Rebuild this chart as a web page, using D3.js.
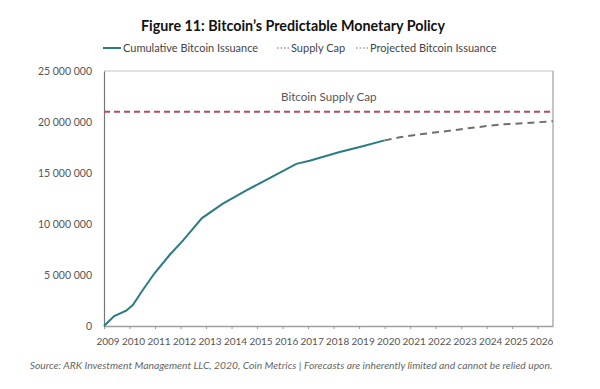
<!DOCTYPE html>
<html>
<head>
<meta charset="utf-8">
<script src="https://cdn.jsdelivr.net/npm/d3@7"></script>
<style>
  body { margin: 0; background: #fff; }
  svg { display: block; font-family: Lato, "Open Sans", sans-serif; }
</style>
</head>
<body>
<div id="svgContainer"></div>
<script>
// data (years as decimal years, values in BTC)
var issuanceYears  = [2009.0, 2009.4, 2009.87, 2010.13, 2010.52, 2010.98, 2011.57, 2012.1, 2012.84, 2013.66, 2014.58, 2015.49, 2016.54, 2017.06, 2018.24, 2019.1, 2020.0];
var issuanceValues = [0, 980000, 1500000, 2060000, 3530000, 5170000, 6960000, 8400000, 10580000, 12000000, 13300000, 14500000, 15900000, 16200000, 17050000, 17600000, 18200000];

var projectedYears  = [2020.0, 2020.59, 2021.37, 2022.27, 2023.1, 2023.99, 2024.6, 2025.56, 2026.6];
var projectedValues = [18200000, 18500000, 18800000, 19050000, 19330000, 19600000, 19760000, 19900000, 20080000];

var supplyCap = 21000000;
var capYears = [2009, 2026.6];

var yearTicks = d3.range(2009, 2027);
var valueTicks = [0, 5000000, 10000000, 15000000, 20000000, 25000000];

var legendNames = ["Cumulative Bitcoin Issuance", "Supply Cap", "Projected Bitcoin Issuance"];

var title = "Figure 11: Bitcoin\u2019s Predictable Monetary Policy";
var source = "Source: ARK Investment Management LLC, 2020, Coin Metrics | Forecasts are inherently limited and cannot be relied upon.";

var W = 600, H = 389;
var margin = {top: 71, right: 47, bottom: 63, left: 104}
  , width = W - margin.left - margin.right
  , height = H - margin.top - margin.bottom;

var teal = "#2b7b83", capRed = "#b5495f", projGrey = "#6f6f6f";

var x = d3.scaleLinear().domain([2009, 2026.6]).range([0, width]);
var y = d3.scaleLinear().domain([0, 25000000]).range([height, 0]);

var fmt = function(d) { return d3.format(",")(d).replace(/,/g, " "); };

var root = d3.select("#svgContainer")
    .append("svg")
    .attr("width", W)
    .attr("height", H);

// title
root.append("text")
    .attr("x", 293)
    .attr("y", 31)
    .attr("text-anchor", "middle")
    .style("font-weight", "bold")
    .style("font-size", "14.3px")
    .style("fill", "#111")
    .text(title);

// legend
var legendX = [103, 277, 356];
var legend = root.append("g").attr("transform", "translate(0,48)");
legendNames.forEach(function(name, i) {
    var g = legend.append("g").attr("transform", "translate(" + legendX[i] + ",0)");
    if (i == 0) {
        g.append("line").attr("x1", 0).attr("x2", 18)
          .attr("stroke", teal).attr("stroke-width", 2);
    } else {
        g.append("line").attr("x1", 0).attr("x2", 12)
          .attr("stroke", i == 1 ? capRed : projGrey)
          .attr("stroke-width", 1.2)
          .attr("stroke-dasharray", "1.5,2");
    }
    g.append("text")
      .attr("x", i == 0 ? 20 : 14)
      .attr("dy", "0.35em")
      .style("font-size", "11px")
      .style("fill", "#444")
      .text(name);
});

var svg = root.append("g")
    .attr("transform", "translate(" + margin.left + "," + margin.top + ")");

// frame: top and right edges
svg.append("line")
    .attr("x1", 0).attr("x2", width)
    .attr("y1", 0).attr("y2", 0)
    .attr("stroke", "#c4c4c4");
svg.append("line")
    .attr("x1", width).attr("x2", width)
    .attr("y1", 0).attr("y2", height)
    .attr("stroke", "#b0b0b0").attr("stroke-width", 1.5);

// y axis
var yAxis = svg.append("g")
    .call(d3.axisLeft(y).tickValues(valueTicks).tickFormat(fmt).tickSize(0).tickPadding(12));
yAxis.select(".domain").attr("stroke", "#777").attr("stroke-width", 1.2);
yAxis.selectAll("text").style("font-size", "10.5px").style("fill", "#555").style("font-family", "Lato, sans-serif");

// x axis
var xAxis = svg.append("g")
    .attr("transform", "translate(0," + height + ")")
    .call(d3.axisBottom(x).tickValues(yearTicks).tickFormat(d3.format("d")).tickSize(3).tickPadding(9).tickSizeOuter(0));
xAxis.select(".domain").attr("stroke", "#a0a0a0").attr("stroke-width", 1.5);
xAxis.selectAll(".tick line").attr("stroke", "#999");
xAxis.selectAll("text")
    .attr("dx", "3.5")
    .style("font-size", "10px").style("fill", "#555").style("font-family", "Lato, sans-serif");

// supply cap
svg.append("path")
    .datum(capYears)
    .attr("fill", "none")
    .attr("stroke", capRed)
    .attr("stroke-width", 2)
    .attr("stroke-dasharray", "6,4")
    .attr("d", d3.line().x(function(d) { return x(d); }).y(function() { return y(supplyCap); }));

svg.append("text")
    .attr("x", x(2015.94))
    .attr("y", y(supplyCap) - 11)
    .style("font-size", "11.6px")
    .style("fill", "#555")
    .text("Bitcoin Supply Cap");

// projected issuance
var projLine = d3.line()
    .x(function(d, i) { return x(projectedYears[i]); })
    .y(function(d) { return y(d); });
svg.append("path")
    .datum(projectedValues)
    .attr("fill", "none")
    .attr("stroke", projGrey)
    .attr("stroke-width", 2)
    .attr("stroke-dasharray", "7,5")
    .attr("d", projLine);

// cumulative issuance
var valueline = d3.line()
    .x(function(d, i) { return x(issuanceYears[i]); })
    .y(function(d) { return y(d); });
svg.append("path")
    .datum(issuanceValues)
    .attr("fill", "none")
    .attr("stroke", teal)
    .attr("stroke-width", 2)
    .attr("d", valueline);

// source note
root.append("text")
    .attr("x", 291)
    .attr("y", 369)
    .attr("text-anchor", "middle")
    .style("font-style", "italic")
    .style("font-size", "10.3px")
    .style("fill", "#666")
    .text(source);
</script>
</body>
</html>
